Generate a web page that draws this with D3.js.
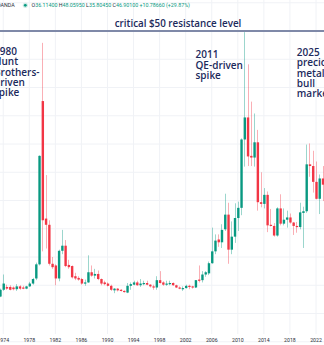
<!DOCTYPE html>
<html><head><meta charset="utf-8">
<script src="https://cdn.jsdelivr.net/npm/d3@7"></script>
<style>html,body{margin:0;padding:0;background:#fff;overflow:hidden}</style>
</head><body><svg id="c" width="324" height="345"></svg>
<script>
// Semiannual candles (period start), XAG/USD
const periods = ["1973-07",
"1974-01","1974-07","1975-01","1975-07","1976-01","1976-07","1977-01","1977-07","1978-01","1978-07",
"1979-01","1979-07","1980-01","1980-07","1981-01","1981-07","1982-01","1982-07","1983-01","1983-07",
"1984-01","1984-07","1985-01","1985-07","1986-01","1986-07","1987-01","1987-07","1988-01","1988-07",
"1989-01","1989-07","1990-01","1990-07","1991-01","1991-07","1992-01","1992-07","1993-01","1993-07",
"1994-01","1994-07","1995-01","1995-07","1996-01","1996-07","1997-01","1997-07","1998-01","1998-07",
"1999-01","1999-07","2000-01","2000-07","2001-01","2001-07","2002-01","2002-07","2003-01","2003-07",
"2004-01","2004-07","2005-01","2005-07","2006-01","2006-07","2007-01","2007-07","2008-01","2008-07",
"2009-01","2009-07","2010-01","2010-07","2011-01","2011-07","2012-01","2012-07","2013-01","2013-07",
"2014-01","2014-07","2015-01","2015-07","2016-01","2016-07","2017-01","2017-07","2018-01","2018-07",
"2019-01","2019-07","2020-01","2020-07","2021-01","2021-07","2022-01","2022-07","2023-01"];
const openV = [3.0,
4.2,4.7,4.7,4.6,4.3,4.8,4.6,4.4,4.8,5.3,
6.2,8.7,37.6,16.8,15.7,8.8,8.5,6.2,11.1,12.0,
8.6,8.4,6.6,6.3,6.1,5.3,5.5,7.3,6.7,7.0,
6.1,5.5,5.3,4.9,4.1,4.4,4.2,4.0,3.7,4.9,
5.1,5.5,5.0,5.2,5.4,5.1,4.8,4.6,5.9,5.5,
5.1,5.3,5.4,5.0,4.6,4.4,4.5,4.9,4.8,4.6,
6.0,5.9,6.9,7.1,8.9,11.0,13.1,12.6,14.9,17.5,
11.3,13.6,16.9,18.7,30.8,34.7,27.9,27.6,30.3,19.7,
19.4,21.0,15.7,15.5,13.8,18.6,15.9,16.6,17.0,16.1,
15.5,15.3,17.8,18.1,26.4,26.1,23.3,20.3,23.9];
const highV = [4.4,
6.9,5.1,5.0,4.8,5.2,5.0,4.9,4.9,5.6,6.3,
9.0,28.0,47.9,24.5,16.5,10.0,8.7,11.3,14.8,13.0,
9.5,8.5,7.2,6.6,6.3,6.0,10.3,8.5,7.9,7.6,
6.2,5.8,5.5,5.1,4.5,4.5,4.3,4.1,5.4,5.5,
5.8,5.8,6.1,5.8,5.8,5.2,5.1,6.6,7.5,5.7,
5.8,5.8,5.5,5.1,4.8,4.8,5.1,5.1,4.9,5.9,
8.5,7.5,7.5,9.2,15.2,14.0,14.0,15.8,21.2,19.6,
16.3,19.5,19.8,31.0,49.8,44.1,37.5,35.4,32.5,25.0,
22.2,21.6,18.5,16.0,18.8,21.1,18.6,18.2,17.7,16.2,
16.2,19.6,18.9,29.9,30.1,28.8,26.9,24.6,26.1];
const lowV = [2.9,
4.0,4.2,4.1,4.1,4.0,4.2,4.3,4.3,4.7,5.1,
5.9,8.5,11.0,11.5,8.5,7.9,5.0,5.7,10.5,8.2,
7.9,6.2,5.9,5.8,5.1,4.9,5.4,6.5,6.2,5.9,
5.0,5.0,4.8,4.0,3.6,3.9,3.9,3.7,3.6,4.2,
5.0,4.9,4.7,5.0,5.0,4.6,4.2,4.2,5.3,4.9,
4.9,5.0,4.9,4.5,4.3,4.0,4.4,4.3,4.4,4.5,
5.5,5.5,6.5,6.8,8.8,10.5,11.8,11.6,14.6,8.8,
10.5,12.5,14.6,17.4,26.0,26.1,26.1,26.0,18.2,18.8,
18.6,14.4,15.4,13.6,13.6,15.6,15.6,15.2,15.9,13.9,
14.3,14.9,11.6,17.8,24.2,21.4,20.2,17.6,19.9];
const closeV = [4.2,
5.3,4.4,4.2,4.3,4.8,4.4,4.4,4.8,5.3,6.1,
8.7,27.9,16.5,15.7,8.8,8.2,6.2,11.1,12.0,8.4,
8.2,6.4,6.2,6.0,5.3,5.5,7.3,6.7,7.0,6.1,
5.3,5.2,4.9,4.2,4.4,4.1,4.0,3.8,4.9,5.2,
5.5,5.0,5.3,5.4,5.1,4.8,4.6,5.9,5.4,5.1,
5.3,5.4,5.0,4.6,4.4,4.5,4.9,4.7,4.6,5.9,
5.85,6.9,7.3,8.9,11.0,12.9,12.6,14.8,17.5,11.3,
13.6,16.9,18.7,30.8,34.7,27.8,27.6,30.3,19.7,19.4,
21.0,15.6,15.5,13.8,18.6,15.9,16.6,17.0,16.1,15.5,
15.3,17.9,18.1,26.4,26.1,23.3,20.3,23.9,22.8];

const tickYears = [1974,1978,1982,1986,1990,1994,1998,2002,2006,2010,2014,2018,2022];
const gridPrices = [-5,0,5,10,15,20,25,30,35,40,45,50,55];
const resistanceLevel = 50;
const titleText = "critical $50 resistance level";
const headerSymbol = "OANDA";
const headerKeys = ["O","H","L","C"];
const headerVals = ["36.11400","48.05950","35.80450","46.90100"];
const headerChange = "+10.78660 (+29.87%)";
const note1980 = ["1980","Hunt","Brothers-","driven","spike"];
const note2011 = ["2011","QE-driven","spike"];
const note2025 = ["2025","precious","metals","bull","market"];

const UP = "#089981", DOWN = "#f23645", NAVY = "#1c2a5c";
const svg = d3.select("#c");
const parse = d3.timeParse("%Y-%m");
const x = d3.scaleTime().domain([new Date(1974,0,1), new Date(2022,0,1)]).range([3.24, 316.0]);
const y = d3.scaleLinear().domain([0, 50]).range([313.5, 31]);

// grid
svg.append("g").selectAll("line").data(gridPrices).join("line")
  .attr("x1",0).attr("x2",324).attr("y1",d=>y(d)).attr("y2",d=>y(d))
  .attr("stroke","#f0f2f6").attr("stroke-width",1);
svg.append("g").selectAll("line").data(tickYears).join("line")
  .attr("x1",d=>x(new Date(d,0,1))).attr("x2",d=>x(new Date(d,0,1)))
  .attr("y1",0).attr("y2",334).attr("stroke","#f0f2f6").attr("stroke-width",1);

// candles
const data = periods.map((p,i)=>({t:parse(p),o:openV[i],h:highV[i],l:lowV[i],c:closeV[i]}));
const bw = 2.4;
const g = svg.append("g");
g.selectAll("line.w").data(data).join("line").attr("class","w")
  .attr("x1",d=>Math.round(x(d.t))+0.5).attr("x2",d=>Math.round(x(d.t))+0.5)
  .attr("y1",d=>y(d.h)).attr("y2",d=>y(d.l))
  .attr("stroke",d=>d.c>=d.o?UP:DOWN).attr("stroke-opacity",0.4).attr("stroke-width",1);
g.selectAll("rect").data(data).join("rect")
  .attr("x",d=>x(d.t)-bw/2+0.5).attr("width",bw)
  .attr("y",d=>y(Math.max(d.o,d.c)))
  .attr("height",d=>Math.max(1.2, Math.abs(y(d.o)-y(d.c))))
  .attr("fill",d=>d.c>=d.o?UP:DOWN);

// resistance line
svg.append("line").attr("x1",0).attr("x2",324).attr("y1",y(resistanceLevel)).attr("y2",y(resistanceLevel))
  .attr("stroke","#7f89a8").attr("stroke-width",1.8);

// x labels
svg.append("g").selectAll("text").data(tickYears).join("text")
  .attr("x",d=>x(new Date(d,0,1))).attr("y",342).attr("text-anchor","middle")
  .attr("font-family","Roboto, sans-serif").attr("font-size",5.2).attr("fill","#2a2e39")
  .text(d=>d);

// header
const hdr = svg.append("text").attr("x",-3).attr("y",7.3)
  .attr("font-family","Roboto, sans-serif").attr("font-size",5.3).attr("fill","#2a2e39");
hdr.append("tspan").text(headerSymbol);
svg.append("circle").attr("cx",25.3).attr("cy",5.3).attr("r",2.6).attr("fill","#089981").attr("fill-opacity",0.2);
svg.append("circle").attr("cx",25.3).attr("cy",5.3).attr("r",1.4).attr("fill","#089981");
const hv = svg.append("text").attr("x",31.5).attr("y",7.3)
  .attr("font-family","Roboto, sans-serif").attr("font-size",5.3);
headerKeys.forEach((k,i)=>{
  hv.append("tspan").attr("fill","#2a2e39").text((i?" ":"")+k);
  hv.append("tspan").attr("fill",UP).text(headerVals[i]);
});
hv.append("tspan").attr("fill",UP).text(" "+headerChange);

// title
svg.append("text").attr("x",178).attr("y",27.3).attr("text-anchor","middle")
  .attr("font-family","'Open Sans', sans-serif").attr("font-weight",600)
  .attr("font-size",9.8).attr("fill",NAVY).text(titleText);

function note(lines, x0, y0){
  const t = svg.append("text").attr("font-family","'Open Sans', sans-serif")
    .attr("font-weight",600).attr("font-size",10).attr("fill",NAVY);
  lines.forEach((s,i)=>t.append("tspan").attr("x",x0).attr("y",y0+i*10.3).text(s));
}
note(note1980, -6, 55);
note(note2011, 195.5, 58.3);
note(note2025, 296.8, 56);
</script></body></html>
